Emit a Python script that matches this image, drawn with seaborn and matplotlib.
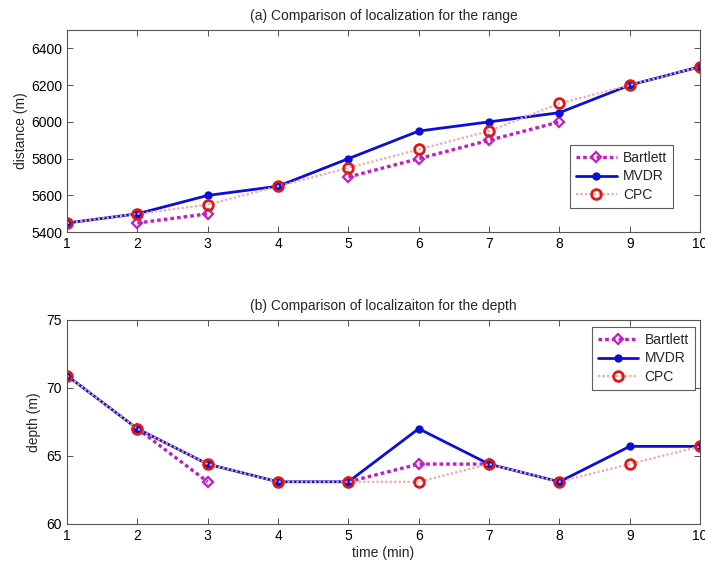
import numpy as np
import pandas as pd
import matplotlib.pyplot as plt
import seaborn as sns
from matplotlib.lines import Line2D

# data
time_min = [1, 2, 3, 4, 5, 6, 7, 8, 9, 10]

range_bartlett = [np.nan, 5450, 5500, np.nan, 5700, 5800, 5900, 6000, np.nan, np.nan]
range_mvdr = [5450, 5500, 5600, 5650, 5800, 5950, 6000, 6050, 6200, 6300]
range_cpc = [5450, 5500, 5550, 5650, 5750, 5850, 5950, 6100, 6200, 6300]

depth_bartlett = [np.nan, 67.0, 63.1, np.nan, 63.1, 64.4, 64.4, np.nan, np.nan, np.nan]
depth_mvdr = [70.9, 67.0, 64.4, 63.1, 63.1, 67.0, 64.4, 63.1, 65.7, 65.7]
depth_cpc = [70.9, 67.0, 64.4, 63.1, 63.1, 63.1, 64.4, 63.1, 64.4, 65.7]

methods = ["Bartlett", "MVDR", "CPC"]

sns.set_theme(style="ticks")
plt.rcParams["font.family"] = ["Liberation Sans", "DejaVu Sans"]
FS = 10

styles = {
    "Bartlett": dict(color="#c21fc2", linestyle=(0, (1.1, 0.9)), linewidth=2.4,
                     marker="D", markersize=5.5, markerfacecolor="none",
                     markeredgecolor="#c21fc2", markeredgewidth=1.6),
    "MVDR": dict(color="#0d0dd8", linestyle="-", linewidth=2.0,
                 marker="o", markersize=5, markerfacecolor="#0d0dd8",
                 markeredgecolor="#0d0dd8", markeredgewidth=1),
    "CPC": dict(color="#f0a8a8", linestyle=(0, (1, 1)), linewidth=1.6,
                marker="o", markersize=7, markerfacecolor="none",
                markeredgecolor="#e01818", markeredgewidth=2.0),
}


def to_frame(values):
    # split series at NaN so gaps stay as gaps
    df = pd.DataFrame({"t": time_min, "v": values})
    df["seg"] = df["v"].isna().cumsum()
    return df.dropna()


def draw(ax, series):
    for name, vals in zip(methods, series):
        df = to_frame(vals)
        sns.lineplot(data=df, x="t", y="v", units="seg", estimator=None,
                     sort=False, ax=ax, legend=False, **styles[name])


fig = plt.figure(figsize=(7.05, 5.65), dpi=100)
ax1 = fig.add_axes([0.095, 0.589, 0.898, 0.358])
ax2 = fig.add_axes([0.095, 0.0726, 0.898, 0.3614])

draw(ax1, [range_bartlett, range_mvdr, range_cpc])
draw(ax2, [depth_bartlett, depth_mvdr, depth_cpc])

ax1.set_xlim(1, 10)
ax1.set_ylim(5400, 6500)
ax1.set_yticks([5400, 5600, 5800, 6000, 6200, 6400])
ax1.set_title("(a) Comparison of localization for the range", fontsize=FS, pad=7)
ax1.set_ylabel("distance (m)", fontsize=FS, labelpad=2)
ax1.set_xlabel("")

ax2.set_xlim(1, 10)
ax2.set_ylim(60, 75)
ax2.set_yticks([60, 65, 70, 75])
ax2.set_title("(b) Comparison of localizaiton for the depth", fontsize=FS, pad=7)
ax2.set_ylabel("depth (m)", fontsize=FS, labelpad=4)
ax2.set_xlabel("time (min)", fontsize=FS, labelpad=2)

for ax in (ax1, ax2):
    ax.set_xticks(time_min)
    ax.tick_params(direction="in", top=True, right=True, labelsize=FS,
                   length=4, width=0.6, colors="#333333", labelcolor="black")
    for sp in ax.spines.values():
        sp.set_visible(True)
        sp.set_color("#555555")
        sp.set_linewidth(0.8)

handles = [Line2D([0], [0], **styles[m]) for m in methods]
leg_kw = dict(fontsize=FS, frameon=True, fancybox=False, edgecolor="#333333",
              handlelength=2.9, borderpad=0.45, labelspacing=0.3, handletextpad=0.45,
              borderaxespad=0, bbox_transform=fig.transFigure)
lg1 = ax1.legend(handles, methods, loc="upper left",
                 bbox_to_anchor=(570 / 705, 1 - 145 / 565), **leg_kw)
lg2 = ax2.legend(handles, methods, loc="upper right",
                 bbox_to_anchor=(695 / 705, 1 - 327 / 565), **leg_kw)
for lg in (lg1, lg2):
    lg.get_frame().set_linewidth(0.8)

fig.savefig("out.png", dpi=100)
